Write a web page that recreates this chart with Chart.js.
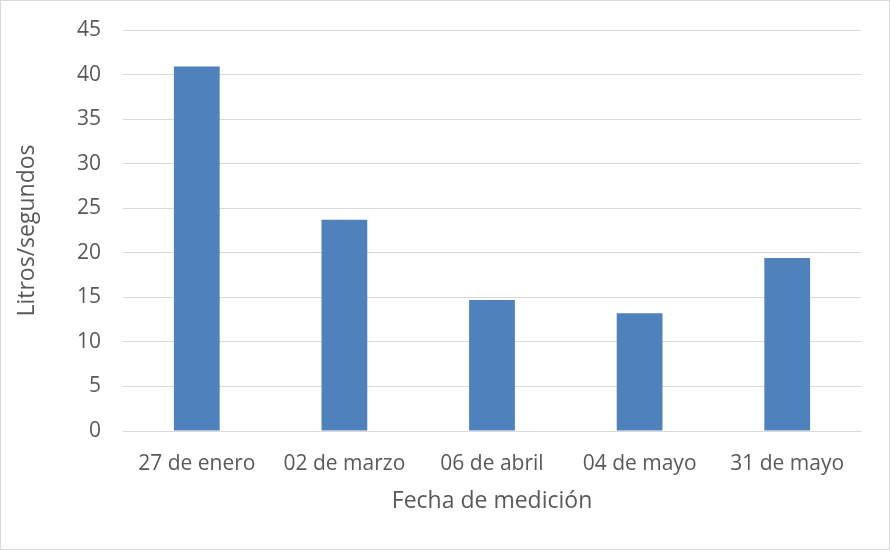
<!DOCTYPE html>
<html>
<head>
<meta charset="utf-8">
<script src="https://cdn.jsdelivr.net/npm/chart.js@4/dist/chart.umd.min.js"></script>
<style>
html,body{margin:0;padding:0;background:#fff;}
#wrap{width:890px;height:550px;position:relative;}
</style>
</head>
<body>
<div id="wrap"><canvas id="c" width="890" height="550"></canvas></div>
<script>
const categories = ["27 de enero", "02 de marzo", "06 de abril", "04 de mayo", "31 de mayo"];
const caudal = [40.9, 23.7, 14.7, 13.2, 19.4];
const yTitle = "Litros/segundos";
const xTitle = "Fecha de medición";

const borderPlugin = {
  id: 'outerBorder',
  beforeDraw(chart) {
    const ctx = chart.ctx;
    ctx.save();
    ctx.fillStyle = '#ffffff';
    ctx.fillRect(0, 0, chart.width, chart.height);
    ctx.strokeStyle = '#d9d9d9';
    ctx.lineWidth = 1;
    ctx.strokeRect(0.5, 0.5, chart.width - 1, chart.height - 1);
    ctx.restore();
  }
};

const FONT = "'Open Sans', 'Noto Sans', sans-serif";

new Chart(document.getElementById('c'), {
  type: 'bar',
  data: {
    labels: categories,
    datasets: [{
      data: caudal,
      backgroundColor: '#4f81bd',
      borderWidth: 0,
      barPercentage: 0.31,
      categoryPercentage: 1.0
    }]
  },
  options: {
    responsive: false,
    animation: false,
    layout: { padding: { top: 30, right: 29, bottom: 35, left: 14 } },
    plugins: { legend: { display: false }, tooltip: { enabled: false } },
    scales: {
      x: {
        grid: { display: false, drawTicks: false },
        border: { display: true, color: '#d9d9d9', width: 1 },
        ticks: { color: '#595959', font: { family: FONT, size: 21 }, padding: 20, maxRotation: 0 },
        title: { display: true, text: xTitle, color: '#595959', font: { family: FONT, size: 23 }, padding: { top: 8, bottom: 0 } },
        afterFit(scale) { scale.height = 84; }
      },
      y: {
        min: 0, max: 45,
        grid: { color: '#d9d9d9', lineWidth: 1, drawTicks: false },
        border: { display: false },
        ticks: { stepSize: 5, color: '#595959', font: { family: FONT, size: 21 }, padding: 22 },
        title: { display: true, text: yTitle, color: '#595959', font: { family: FONT, size: 23 }, padding: { top: 0, bottom: 14 } },
        afterFit(scale) { scale.width = 109; scale.paddingTop = 0; scale.paddingBottom = 0; }
      }
    }
  },
  plugins: [borderPlugin]
});
</script>
</body>
</html>
